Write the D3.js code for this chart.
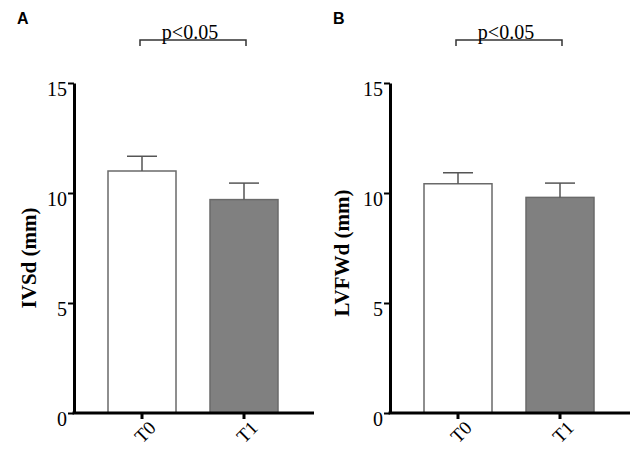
<!DOCTYPE html>
<html>
<head>
<meta charset="utf-8">
<script src="https://cdn.jsdelivr.net/npm/d3@7"></script>
<style>
  body { margin: 0; background: #fff; }
  svg { display: block; }
</style>
</head>
<body>
<script>
    var groups = ["T0", "T1"];
    var ivsdMean = [11.0, 9.7];
    var ivsdErr = [0.67, 0.75];
    var lvfwdMean = [10.42, 9.8];
    var lvfwdErr = [0.5, 0.65];
    var yTicks = [0, 5, 10, 15];
    var barFill = ["#ffffff", "#808080"];

    var panels = [
        {letter: "A", label: "IVSd (mm)", mean: ivsdMean, err: ivsdErr, left: 74, labelX: 29, labelY: 258, sig: "p<0.05"},
        {letter: "B", label: "LVFWd (mm)", mean: lvfwdMean, err: lvfwdErr, left: 390, labelX: 342, labelY: 253, sig: "p<0.05"}
    ];

    var W = 638, H = 450;
    var plotTop = 83, plotBottom = 413;

    var svg = d3.select("body").append("svg")
        .attr("width", W)
        .attr("height", H);

    var yScale = d3.scaleLinear()
        .domain([0, 15])
        .range([plotBottom, plotTop]);

    panels.forEach(function(p) {
        var g = svg.append("g");

        var xScale = d3.scaleBand()
            .domain(groups)
            .range([p.left, p.left + 238])
            .paddingInner(1 / 3)
            .paddingOuter(1 / 3);

        // panel letter
        g.append("text")
            .attr("x", p.left - 57)
            .attr("y", 24)
            .text(p.letter)
            .style("font-family", "Liberation Sans, Arial, sans-serif")
            .style("font-size", "16px")
            .style("font-weight", "bold");

        // bars
        g.selectAll("rect.bar")
            .data(p.mean)
            .enter()
            .append("rect")
            .attr("class", "bar")
            .attr("x", (d, i) => xScale(groups[i]))
            .attr("y", d => yScale(d))
            .attr("width", xScale.bandwidth())
            .attr("height", d => yScale(0) - yScale(d))
            .attr("fill", (d, i) => barFill[i])
            .attr("stroke", "#6a6a6a")
            .attr("stroke-width", 1.5);

        // error bars (upper only)
        var eb = g.selectAll("g.err")
            .data(p.mean)
            .enter()
            .append("g")
            .attr("class", "err");

        eb.append("line")
            .attr("x1", (d, i) => xScale(groups[i]) + xScale.bandwidth() / 2)
            .attr("x2", (d, i) => xScale(groups[i]) + xScale.bandwidth() / 2)
            .attr("y1", d => yScale(d))
            .attr("y2", (d, i) => yScale(d + p.err[i]))
            .attr("stroke", "#555")
            .attr("stroke-width", 1.5);

        eb.append("line")
            .attr("x1", (d, i) => xScale(groups[i]) + xScale.bandwidth() / 2 - 15)
            .attr("x2", (d, i) => xScale(groups[i]) + xScale.bandwidth() / 2 + 15)
            .attr("y1", (d, i) => yScale(d + p.err[i]))
            .attr("y2", (d, i) => yScale(d + p.err[i]))
            .attr("stroke", "#555")
            .attr("stroke-width", 1.5);

        // y axis
        var yAxis = g.append("g")
            .attr("transform", "translate(" + p.left + ",0)")
            .call(d3.axisLeft(yScale).tickValues(yTicks).tickSize(6).tickSizeOuter(0));

        yAxis.select("path.domain")
            .attr("stroke", "#000")
            .attr("stroke-width", 3);
        yAxis.selectAll("line")
            .attr("stroke", "#000")
            .attr("stroke-width", 2);
        yAxis.selectAll("text")
            .attr("x", -7)
            .attr("dy", "12px")
            .style("font-family", "Liberation Serif, Times New Roman, serif")
            .style("font-size", "20px")
            .attr("fill", "#000");

        // x axis
        var xAxis = g.append("g")
            .attr("transform", "translate(0," + plotBottom + ")")
            .call(d3.axisBottom(xScale).tickSize(6).tickSizeOuter(0));

        xAxis.select("path.domain")
            .attr("d", "M" + (p.left - 1.5) + ",0H" + (p.left + 240))
            .attr("stroke", "#000")
            .attr("stroke-width", 3);
        xAxis.selectAll("line")
            .attr("stroke", "#000")
            .attr("stroke-width", 3);
        xAxis.selectAll("text")
            .attr("x", 0)
            .attr("y", 0)
            .attr("dy", null)
            .attr("text-anchor", "middle")
            .attr("dominant-baseline", "central")
            .attr("transform", "translate(3,19) rotate(-45)")
            .style("font-family", "Liberation Serif, Times New Roman, serif")
            .style("font-size", "19px")
            .attr("fill", "#000");

        // y label
        g.append("text")
            .attr("transform", "translate(" + p.labelX + "," + p.labelY + ") rotate(-90)")
            .attr("text-anchor", "middle")
            .attr("dominant-baseline", "central")
            .text(p.label)
            .style("font-family", "Liberation Serif, Times New Roman, serif")
            .style("font-size", "21px")
            .style("font-weight", "bold");

        // significance bracket
        var x0 = xScale(groups[0]) + xScale.bandwidth() / 2 - 2;
        var x1 = xScale(groups[1]) + xScale.bandwidth() / 2 + 2;
        g.append("path")
            .attr("d", "M" + x0 + ",46V40H" + x1 + "V46")
            .attr("fill", "none")
            .attr("stroke", "#333")
            .attr("stroke-width", 1.5);

        g.append("text")
            .attr("x", (x0 + x1) / 2 - 3)
            .attr("y", 39)
            .attr("text-anchor", "middle")
            .text(p.sig)
            .style("font-family", "Liberation Serif, Times New Roman, serif")
            .style("font-size", "20px");
    });
</script>
</body>
</html>
